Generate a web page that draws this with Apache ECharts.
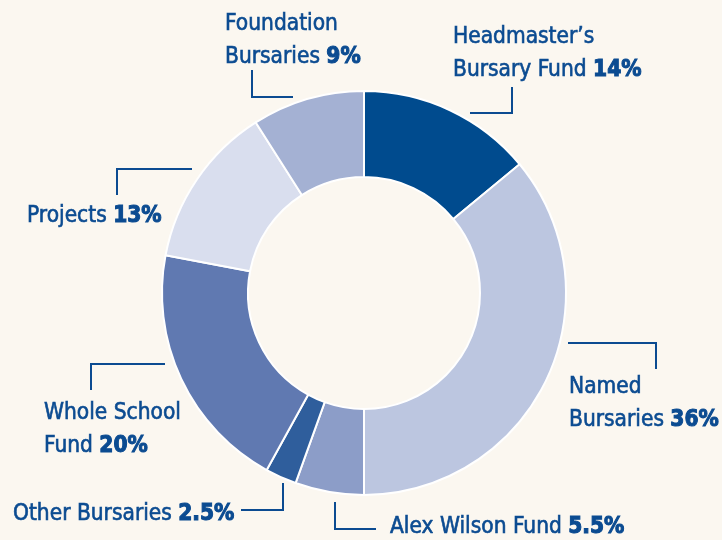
<!DOCTYPE html>
<html>
<head>
<meta charset="utf-8">
<script src="https://cdn.jsdelivr.net/npm/echarts@6/dist/echarts.min.js"></script>
<style>
  html, body { margin: 0; padding: 0; background: #fbf7f0; }
  #chart { width: 722px; height: 540px; }
</style>
</head>
<body>
<div id="chart"></div>
<script>
// bursary split, clockwise from 12 o'clock
const names = [
  "Headmaster’s\nBursary Fund",
  "Named\nBursaries",
  "Alex Wilson Fund",
  "Other Bursaries",
  "Whole School\nFund",
  "Projects",
  "Foundation\nBursaries",
];
const values = [14, 36, 5.5, 2.5, 20, 13, 9];
const colors = ["#004b8e", "#bcc6e0", "#8c9dc8", "#2f5e9c", "#6079b1", "#d9deee", "#a4b1d3"];

// label box (left, top) and elbow leader points
const labelPos = [
  [453, 21], [569, 371], [390, 511], [13, 498], [44, 397], [27, 200], [225, 8],
];
const leaderPts = [
  [[470, 113], [512, 113], [512, 87]],
  [[568, 343], [656, 343], [656, 369]],
  [[376, 529], [335, 529], [335, 502]],
  [[241, 510], [283, 510], [283, 483]],
  [[165, 364], [91, 364], [91, 390]],
  [[192, 169], [117, 169], [117, 195]],
  [[293, 97], [252, 97], [252, 70]],
];

const textColor = "#0b4b91";
const font = "'DejaVu Sans Condensed', 'Liberation Sans Narrow', sans-serif";
const chart = echarts.init(document.getElementById("chart"));

chart.setOption({
  backgroundColor: "#fbf7f0",
  animation: false,
  series: [
    {
      type: "pie",
      center: [364, 293],
      radius: [116, 202],
      startAngle: 90,
      clockwise: true,
      silent: true,
      data: names.map((n, i) => ({
        name: n,
        value: values[i],
        itemStyle: { color: colors[i] },
      })),
      itemStyle: { borderColor: "#ffffff", borderWidth: 2 },
      label: {
        show: true,
        position: "outside",
        overflow: "none",
        formatter: (p) => {
          const lines = p.name.split("\n");
          const last = lines.pop();
          const head = lines.map((l) => "{n|" + l + "}").join("\n");
          return (head ? head + "\n" : "") + "{n|" + last + " }{p|" + p.value + "%}";
        },
        rich: {
          n: {
            fontFamily: font,
            fontSize: 22.5,
            lineHeight: 33,
            color: textColor,
            textBorderColor: textColor,
            textBorderWidth: 0.6,
          },
          p: {
            fontFamily: font,
            fontSize: 22.5,
            fontWeight: "bold",
            lineHeight: 33,
            color: textColor,
            textBorderColor: textColor,
            textBorderWidth: 1,
          },
        },
      },
      labelLine: {
        show: true,
        lineStyle: { color: textColor, width: 2 },
      },
      labelLayout: (params) => {
        const i = params.dataIndex;
        return {
          x: labelPos[i][0],
          y: labelPos[i][1],
          align: "left",
          verticalAlign: "top",
          labelLinePoints: leaderPts[i],
        };
      },
    },
  ],
});
</script>
</body>
</html>
